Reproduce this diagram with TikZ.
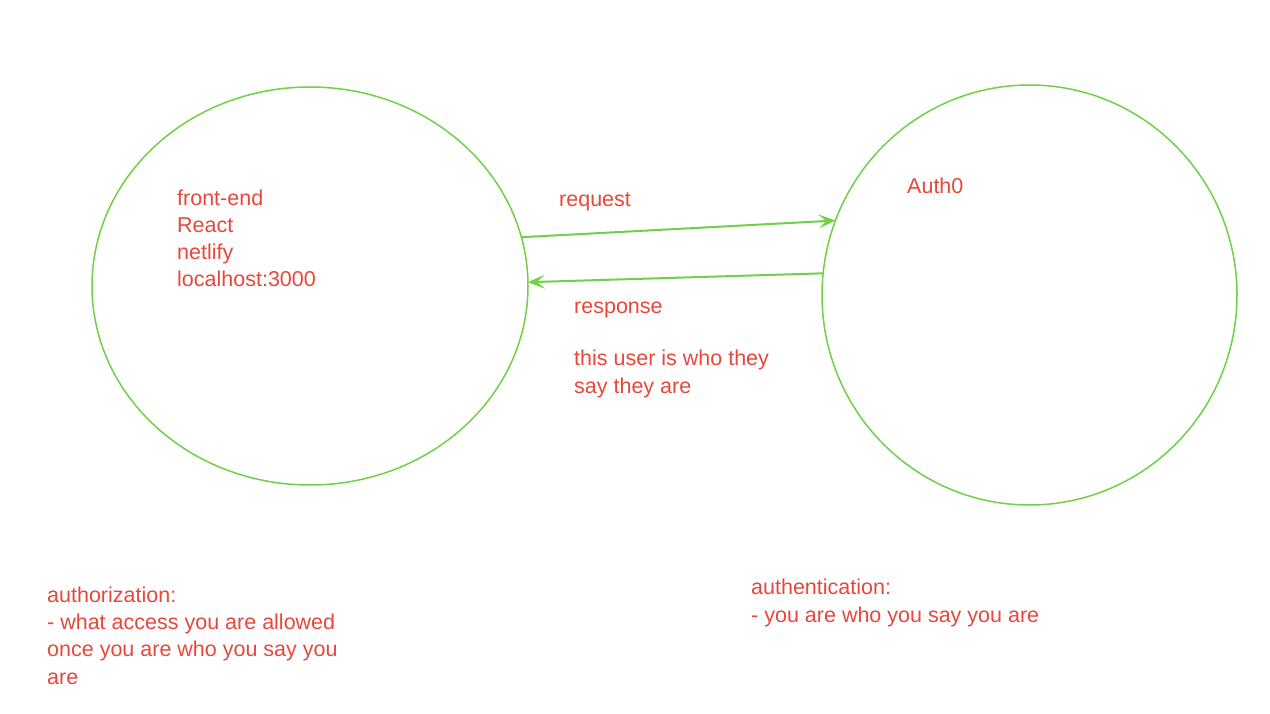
\documentclass[tikz,border=0pt]{standalone}
\usepackage{fontspec}
\setmainfont{Liberation Sans}
\usetikzlibrary{shapes.geometric,arrows.meta}
\definecolor{lblred}{RGB}{232,72,60}
\definecolor{lnkgreen}{RGB}{112,208,72}
\tikzset{
  bubble/.style={ellipse, draw=lnkgreen, line width=1.5pt, inner sep=0pt, outer sep=0pt},
  lbl/.style={text=lblred, font=\fontsize{21.5}{27.3}\selectfont, align=left, anchor=base west, inner sep=0pt},
  link/.style={draw=lnkgreen, line width=2pt, -{Stealth[length=17pt,width=14pt,inset=8pt]}}
}
\begin{document}
\begin{tikzpicture}[x=1pt,y=-1pt]
\useasboundingbox (0,0) rectangle (1270,714);
\fill[white] (0,0) rectangle (1270,714);
\node[bubble, minimum width=436pt, minimum height=398pt] (fe) at (310,286) {};
\node[bubble, minimum width=415pt, minimum height=420pt] (auth) at (1029.5,295) {};
\node[lbl] (fetext) at (177,287) {front-end\\React\\netlify\\localhost:3000};
\node[lbl] (authtext) at (907,194) {Auth0};
\node[lbl] (req) at (559,207) {request};
\node[lbl] (resp) at (574,313) {response};
\node[lbl] (who) at (574,393) {this user is who they\\say they are};
\node[lbl] (authz) at (47,684) {authorization:\\- what access you are allowed\\once you are who you say you\\are};
\node[lbl] (authn) at (751,622) {authentication:\\- you are who you say you are};
\draw[link] (fe.13.6) -- (auth.159.4);
\draw[link] (auth.174) -- (fe.1);
\end{tikzpicture}
\end{document}
